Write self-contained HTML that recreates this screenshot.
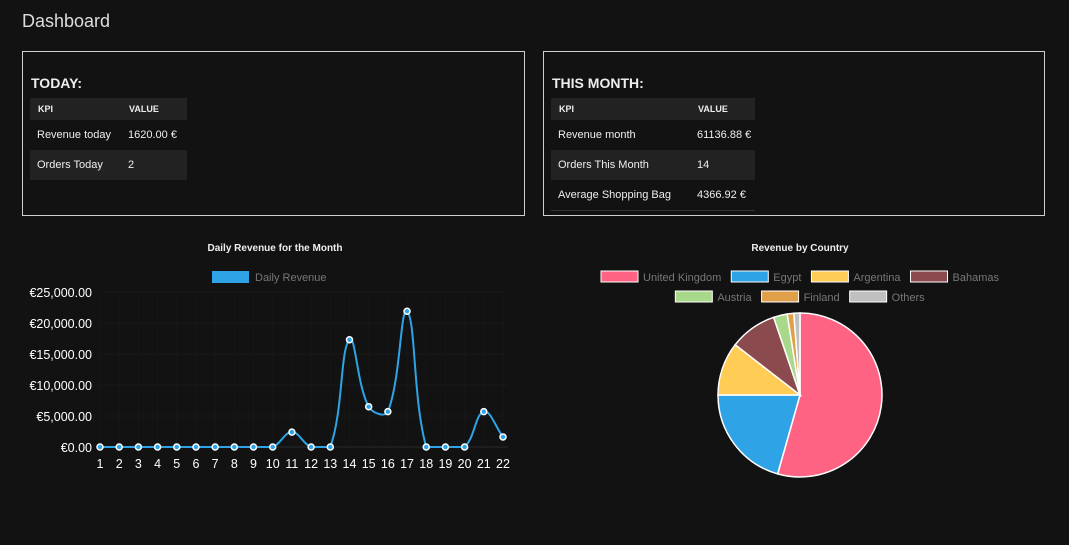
<!DOCTYPE html>
<html><head><meta charset="utf-8"><style>
body{margin:0;width:1069px;height:545px;background:#121212;font-family:"Liberation Sans",sans-serif;color:#eee;position:relative;overflow:hidden}
.abs{position:absolute}
.card{position:absolute;border:1px solid #cfcfcf;box-sizing:border-box}
h2{position:absolute;margin:0;font-size:14px;font-weight:bold;color:#eee}
table{position:absolute;border-collapse:collapse;font-size:11px;color:#eee;table-layout:fixed}
th{background:#222;font-size:9px;text-align:left;height:22px;padding:0 0 0 8px;font-weight:bold;white-space:nowrap}
td{height:30px;padding:0 0 0 7px;white-space:nowrap}
tr.alt td{background:#222}
</style></head><body>
<div class="abs" style="left:22px;top:11px;font-size:18px;color:#ddd">Dashboard</div>

<div class="card" style="left:22px;top:51px;width:503px;height:165px">
<h2 style="left:8px;top:23px">TODAY:</h2>
<table style="left:7px;top:46px;width:157px">
<tr><th style="width:83px">KPI</th><th>VALUE</th></tr>
<tr><td>Revenue today</td><td>1620.00 €</td></tr>
<tr class="alt"><td>Orders Today</td><td>2</td></tr>
</table></div>

<div class="card" style="left:543px;top:51px;width:502px;height:165px">
<h2 style="left:8px;top:23px">THIS MONTH:</h2>
<table style="left:7px;top:46px;width:204px">
<tr><th style="width:131px">KPI</th><th>VALUE</th></tr>
<tr><td>Revenue month</td><td>61136.88 €</td></tr>
<tr class="alt"><td>Orders This Month</td><td>14</td></tr>
<tr><td style="border-bottom:1px solid #333">Average Shopping Bag</td><td style="border-bottom:1px solid #333">4366.92 €</td></tr>
</table></div>

<svg id="line" class="abs" style="left:0;top:0" width="1069" height="545">
<text x="275" y="251" text-anchor="middle" font-size="10" font-weight="bold" fill="#eee">Daily Revenue for the Month</text>
<rect x="212" y="271" width="37" height="12" fill="#2ea3e6"/>
<text x="255" y="281" font-size="11" fill="#777">Daily Revenue</text>
<text x="800" y="251" text-anchor="middle" font-size="10" font-weight="bold" fill="#eee">Revenue by Country</text>
</svg>
<script>
const days=["1","2","3","4","5","6","7","8","9","10","11","12","13","14","15","16","17","18","19","20","21","22"];
const revenue=[0,0,0,0,0,0,0,0,0,0,2400,0,0,17300,6500,5700,21900,0,0,0,5700,1620];
const yTicks=[0,5000,10000,15000,20000,25000];
const countries=["United Kingdom","Egypt","Argentina","Bahamas","Austria","Finland","Others"];
const shares=[54.4,20.6,10.5,9.3,2.7,1.3,1.2];
const colors=["#ff6384","#2ea3e6","#ffcd56","#8b4a4d","#a8d98a","#e0a04a","#c0c0c0"];
const NS="http://www.w3.org/2000/svg";
const svg=document.getElementById('line');
function mk(t,a){const e=document.createElementNS(NS,t);for(const k in a)e.setAttribute(k,a[k]);svg.appendChild(e);return e;}
const x0=100,x1=503,y0=447,y1=292,ymax=25000;
const X=i=>x0+(x1-x0)*i/(days.length-1);
const Y=v=>y0-(y0-y1)*v/ymax;
for(const t of yTicks){
 const g=mk('line',{x1:x0,x2:x1+5,y1:Y(t),y2:Y(t),stroke:t?'#181818':'#2a2a2a'});
 
 const l=mk('text',{x:92,y:Y(t)+5,'text-anchor':'end','font-size':12.5,fill:'#fff'});
 l.textContent='€'+t.toLocaleString('en-US',{minimumFractionDigits:2});
 
}
days.forEach((d,i)=>{
 const g=mk('line',{x1:X(i),x2:X(i),y1:y1,y2:y0,stroke:'#171717'});
 
 const l=mk('text',{x:X(i),y:468,'text-anchor':'middle','font-size':12.5,fill:'#fff'});
 l.textContent=d;
 
});
const pts=revenue.map((v,i)=>[X(i),Y(v)]);
const T=0.4;
const cps=pts.map((p,i)=>{
 const pr=pts[i-1]||p,nx=pts[i+1]||p;
 const d01=Math.hypot(p[0]-pr[0],p[1]-pr[1]),d12=Math.hypot(nx[0]-p[0],nx[1]-p[1]);
 let fa=d01/(d01+d12)||0,fb=d12/(d01+d12)||0;fa*=T;fb*=T;
 return{p:[p[0]-fa*(nx[0]-pr[0]),p[1]-fa*(nx[1]-pr[1])],n:[p[0]+fb*(nx[0]-pr[0]),p[1]+fb*(nx[1]-pr[1])]};
});
let d='M'+pts[0].join(',');
for(let i=1;i<pts.length;i++){
 const a=cps[i-1].n,b=cps[i].p;
 d+=` C${a[0]},${Math.min(a[1],y0)} ${b[0]},${Math.min(b[1],y0)} ${pts[i][0]},${pts[i][1]}`;
}
const path=mk('path',{d:d,fill:'none',stroke:'#2ea3e6','stroke-width':2});

pts.forEach(p=>{
 const c=mk('circle',{cx:p[0],cy:p[1],r:3,fill:'#2ea3e6',stroke:'#fff','stroke-width':1.5});
 
});
// pie legend
const legRows=[[0,1,2,3],[4,5,6]];
legRows.forEach((row,r)=>{
 const y=r?297:277;
 const items=row.map(i=>{
  const s=mk('rect',{y:y-6,width:37,height:11,fill:colors[i],stroke:'#fff','stroke-width':1});
  
  const t=mk('text',{y:y+4,'font-size':11,fill:'#777'});t.textContent=countries[i];
  
  return {s,t,w:42+t.getComputedTextLength()};
 });
 const gap=10;
 const total=items.reduce((a,it)=>a+it.w,0)+gap*(items.length-1);
 let x=800-total/2;
 items.forEach(it=>{it.s.setAttribute('x',x);it.t.setAttribute('x',x+42);x+=it.w+gap;});
});
const cx=800,cy=395,R=82,sum=shares.reduce((a,b)=>a+b,0);
let ang=-Math.PI/2;
shares.forEach((v,i)=>{
 const a2=ang+v/sum*2*Math.PI;
 const large=a2-ang>Math.PI?1:0;
 const p=mk('path',{d:`M${cx},${cy} L${cx+R*Math.cos(ang)},${cy+R*Math.sin(ang)} A${R},${R} 0 ${large} 1 ${cx+R*Math.cos(a2)},${cy+R*Math.sin(a2)} Z`,fill:colors[i],stroke:'#fff','stroke-width':1.5});
 
 
 ang=a2;
});
</script>
</body></html>
